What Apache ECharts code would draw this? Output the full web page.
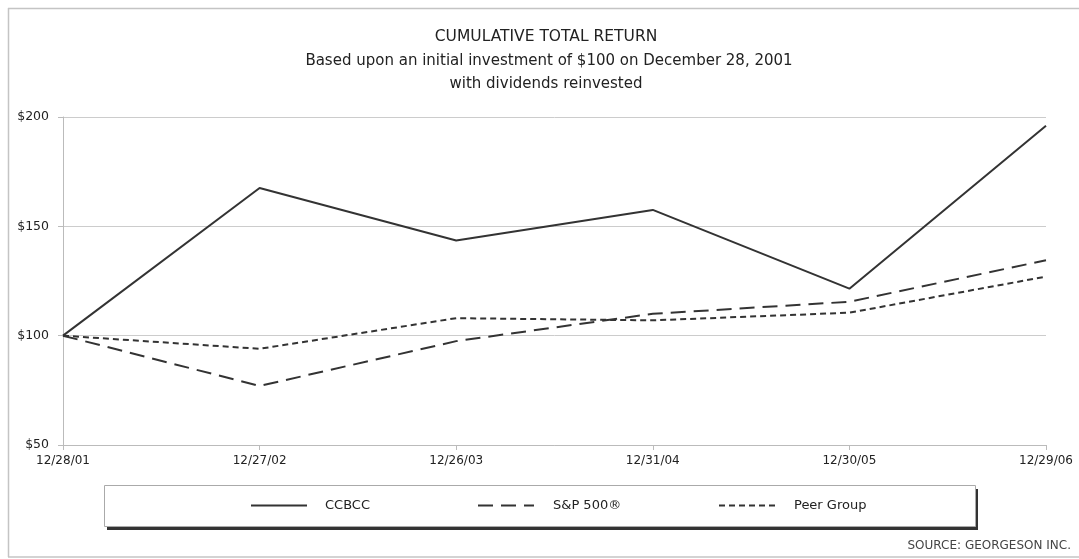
<!DOCTYPE html>
<html>
<head>
<meta charset="utf-8">
<script src="https://cdn.jsdelivr.net/npm/echarts@6/dist/echarts.min.js"></script>
<style>
html,body{margin:0;padding:0;background:#fff;}
#chart{width:1079px;height:559px;}
</style>
</head>
<body>
<div id="chart"></div>
<script>
const categories = ['12/28/01', '12/27/02', '12/26/03', '12/31/04', '12/30/05', '12/29/06'];
const ccbcc = [100, 167.5, 143.5, 157.5, 121.5, 196];
const sp500 = [100, 77, 97.5, 110, 115.5, 134.5];
const peer = [100, 94, 108, 107, 110.5, 127];
const yTicks = [50, 100, 150, 200];
const titleLines = [
  'CUMULATIVE TOTAL RETURN',
  'Based upon an initial investment of $100 on December 28, 2001',
  'with dividends reinvested'
];
const sourceText = 'SOURCE: GEORGESON INC.';

const FONT = '"DejaVu Sans", "Liberation Sans", Arial, sans-serif';
const chart = echarts.init(document.getElementById('chart'), null, {renderer: 'canvas'});

function lineSeries(name, data, type) {
  return {
    name: name, type: 'line', data: data, symbol: 'none', showSymbol: false, animation: false,
    lineStyle: {color: '#333', width: 2, type: type},
    itemStyle: {color: '#333'},
    emphasis: {disabled: true}
  };
}

function legendAt(name, left, gapPad) {
  return {
    data: [name], left: left, top: 499, padding: 0,
    itemWidth: 56, itemHeight: 14, selectedMode: false,
    itemStyle: {opacity: 0},
    textStyle: {fontFamily: FONT, fontSize: 13, color: '#222', padding: [0, 0, 0, gapPad]}
  };
}

chart.setOption({
  backgroundColor: '#fff',
  animation: false,
  textStyle: {fontFamily: FONT},
  grid: {left: 63, right: 33, top: 117, bottom: 114},
  xAxis: {
    type: 'category', data: categories, boundaryGap: false,
    axisLine: {show: true, lineStyle: {color: '#bbb', width: 1}},
    axisTick: {show: true, length: 5, lineStyle: {color: '#bbb'}},
    axisLabel: {color: '#222', fontSize: 12, fontFamily: FONT, margin: 10},
    splitLine: {show: false}
  },
  yAxis: {
    type: 'value', min: 50, max: 200, interval: 50,
    axisLine: {show: true, lineStyle: {color: '#bbb', width: 1}},
    axisTick: {show: true, length: 5, lineStyle: {color: '#bbb'}},
    axisLabel: {color: '#222', fontSize: 12.5, fontFamily: FONT, margin: 14,
      formatter: function (v) { return yTicks.indexOf(v) >= 0 ? '$' + v : ''; }},
    splitLine: {show: true, lineStyle: {color: '#ccc', width: 1}}
  },
  legend: [
    legendAt('CCBCC', 250, 13),
    legendAt('S&P 500®', 477, 14),
    legendAt('Peer Group', 718, 14)
  ],
  graphic: [
    {type: 'line', silent: true, z: -10, shape: {x1: 8.5, y1: 8, x2: 8.5, y2: 557}, style: {stroke: '#c4c4c4', lineWidth: 1.5}},
    {type: 'line', silent: true, z: -10, shape: {x1: 8, y1: 8.5, x2: 1079, y2: 8.5}, style: {stroke: '#c4c4c4', lineWidth: 1.5}},
    {type: 'line', silent: true, z: -10, shape: {x1: 8, y1: 557, x2: 1079, y2: 557}, style: {stroke: '#c4c4c4', lineWidth: 1.5}},
    {type: 'rect', silent: true, z: -5, shape: {x: 107, y: 489, width: 871, height: 41}, style: {fill: '#333'}},
    {type: 'rect', silent: true, z: -4, shape: {x: 104.5, y: 485.5, width: 871, height: 41}, style: {fill: '#fff', stroke: '#aaa', lineWidth: 1}},
    {type: 'text', silent: true, x: 546, y: 37, style: {text: titleLines[0], fill: '#222', font: '15.5px ' + FONT, textAlign: 'center', textVerticalAlign: 'middle'}},
    {type: 'text', silent: true, x: 549, y: 61, style: {text: titleLines[1], fill: '#222', font: '15px ' + FONT, textAlign: 'center', textVerticalAlign: 'middle'}},
    {type: 'text', silent: true, x: 546, y: 84, style: {text: titleLines[2], fill: '#222', font: '15px ' + FONT, textAlign: 'center', textVerticalAlign: 'middle'}},
    {type: 'text', silent: true, x: 1071, y: 546, style: {text: sourceText, fill: '#444', font: '12px ' + FONT, textAlign: 'right', textVerticalAlign: 'middle'}}
  ],
  series: [
    lineSeries('CCBCC', ccbcc, 'solid'),
    lineSeries('S&P 500®', sp500, [15, 8]),
    lineSeries('Peer Group', peer, [6, 4])
  ]
});
</script>
</body>
</html>
